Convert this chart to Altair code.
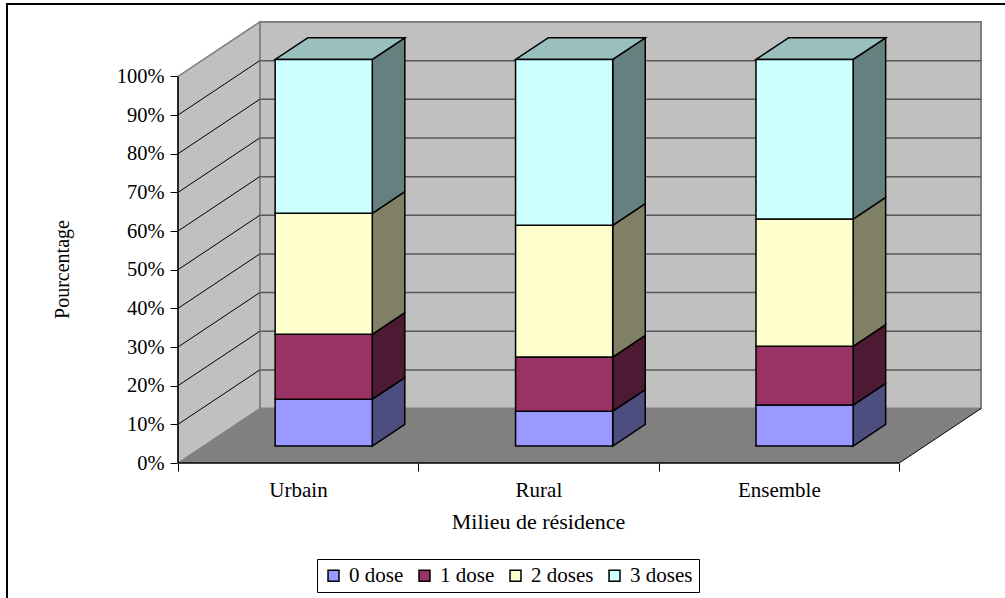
import altair as alt
import pandas as pd

# Vaccination coverage by place of residence (percent of children per dose count)
categories = ["Urbain", "Rural", "Ensemble"]
doses = ["0 dose", "1 dose", "2 doses", "3 doses"]
dose_0 = [12.1, 9.0, 10.6]
dose_1 = [16.8, 14.0, 15.2]
dose_2 = [31.3, 34.1, 32.9]
dose_3 = [39.8, 42.9, 41.3]
series = [dose_0, dose_1, dose_2, dose_3]
pct_ticks = list(range(0, 101, 10))

front_colors = ["#9999FF", "#993366", "#FFFFCC", "#CCFFFF"]
side_colors = ["#4D4D80", "#4D1A33", "#808066", "#668080"]
top_color = "#99BFBF"

# Oblique projection: one unit of depth shifts a point by this much in data units
DEPTH_X = 0.34
DEPTH_Y = 14.08
BAR_DEPTH_START = 0.312
BAR_DEPTH_END = 0.71
BAR_HALF_WIDTH = 0.202
FONT = "Liberation Serif"

xs = alt.Scale(domain=[0, 3 + DEPTH_X], nice=False, zero=False)
ys = alt.Scale(domain=[0, 100 + DEPTH_Y], nice=False, zero=False)

# Axes: ticks and labels come from the scales, the axis lines stop at the front plane
label_expr = "[" + ",".join(f"'{c}'" for c in categories) + ",''][datum.value]"
x_axis = alt.Axis(
    values=[0, 1, 2, 3], domain=False, grid=False, tickColor="black", tickSize=8,
    labelExpr=label_expr, labelOffset=120, labelFont=FONT, labelFontSize=21,
    labelColor="black", labelPadding=8, labelOverlap=False, labelBound=False,
    labelFlush=False, title="Milieu de résidence", titleFont=FONT, titleFontSize=22,
    titleFontWeight="normal", titleColor="black", titleX=360, titleY=48,
)
y_axis = alt.Axis(
    values=pct_ticks, domain=False, grid=False, tickColor="black", tickSize=8,
    labelExpr="datum.value + '%'", labelFont=FONT, labelFontSize=20.5, labelColor="black",
    labelPadding=6, labelOverlap=False, labelBound=False, labelFlush=False,
    title="Pourcentage", titleFont=FONT, titleFontSize=20, titleFontWeight="normal",
    titleColor="black", titleX=-106, titleY=247,
)


def X(field):
    return alt.X(field, type="quantitative", scale=xs, axis=x_axis, title="Milieu de résidence")


def Y(field):
    return alt.Y(field, type="quantitative", scale=ys, axis=y_axis, title="Pourcentage")


# Bar geometry: one row per stacked segment
fronts, sides, tops = [], [], []
for c, name in enumerate(categories):
    left = c + 0.5 - BAR_HALF_WIDTH + BAR_DEPTH_START * DEPTH_X
    right = c + 0.5 + BAR_HALF_WIDTH + BAR_DEPTH_START * DEPTH_X
    base = BAR_DEPTH_START * DEPTH_Y
    reach_x = (BAR_DEPTH_END - BAR_DEPTH_START) * DEPTH_X
    reach_y = (BAR_DEPTH_END - BAR_DEPTH_START) * DEPTH_Y
    total = 0.0
    for s, dose in enumerate(doses):
        lo, hi = total + base, total + series[s][c] + base
        total += series[s][c]
        fronts.append(dict(cat=name, dose=dose, x=left, x2=right, y=lo, y2=hi))
        key = f"{c}-{s}"
        sides.append(dict(key=key, fill=side_colors[s], x=right, y=lo, y2=hi))
        sides.append(dict(key=key, fill=side_colors[s], x=right + reach_x,
                          y=lo + reach_y, y2=hi + reach_y))
    tops.append(dict(key=c, y=total + base, x=left, x2=right))
    tops.append(dict(key=c, y=total + base + reach_y, x=left + reach_x, x2=right + reach_x))

# Outer frame: only its top and left edges fall inside the page
frame = alt.Chart(pd.DataFrame({"k": [0]})).mark_rect(
    fillOpacity=0, stroke="black", strokeWidth=2
).encode(
    x=alt.value(-171), x2=alt.value(860), y=alt.value(-18), y2=alt.value(620)
)

# Chart walls and floor
back_wall = alt.Chart(pd.DataFrame({"x": [DEPTH_X], "x2": [3 + DEPTH_X],
                                    "y": [DEPTH_Y], "y2": [100 + DEPTH_Y]})).mark_rect(
    fill="#C0C0C0", stroke="#808080", strokeWidth=2
).encode(x=X("x"), x2="x2", y=Y("y"), y2="y2")

left_wall = alt.Chart(pd.DataFrame({"x": [0, DEPTH_X], "y": [0, DEPTH_Y],
                                    "y2": [100, 100 + DEPTH_Y]})).mark_area(
    fill="#C0C0C0", stroke="#808080", strokeWidth=1.5, orient="vertical"
).encode(x=X("x"), y=Y("y"), y2="y2")

grid_back = alt.Chart(pd.DataFrame(
    [dict(p=p, x=x, y=p + DEPTH_Y) for p in pct_ticks[1:-1] for x in (DEPTH_X, 3 + DEPTH_X)]
)).mark_line(color="#595959", strokeWidth=1.5).encode(x=X("x"), y=Y("y"), detail="p:N")

grid_left = alt.Chart(pd.DataFrame(
    [dict(p=p, x=d * DEPTH_X, y=p + d * DEPTH_Y) for p in pct_ticks[1:-1] for d in (0, 1)]
)).mark_line(color="black", strokeWidth=1).encode(x=X("x"), y=Y("y"), detail="p:N")

floor = alt.Chart(pd.DataFrame({"y": [0, DEPTH_Y], "x": [0, DEPTH_X],
                                "x2": [3, 3 + DEPTH_X]})).mark_area(
    fill="#808080", orient="horizontal"
).encode(y=Y("y"), x=X("x"), x2="x2")

floor_edge = alt.Chart(pd.DataFrame({"x": [3, 3 + DEPTH_X], "y": [0, DEPTH_Y]})).mark_line(
    color="black", strokeWidth=1
).encode(x=X("x"), y=Y("y"))

x_line = alt.Chart(pd.DataFrame({"x": [0, 3], "y": [0, 0]})).mark_line(
    color="black", strokeWidth=1.5
).encode(x=X("x"), y=Y("y"))
y_line = alt.Chart(pd.DataFrame({"x": [0, 0], "y": [0, 100]})).mark_line(
    color="black", strokeWidth=1.5
).encode(x=X("x"), y=Y("y"))

# Bars
side_faces = alt.Chart(pd.DataFrame(sides)).mark_area(
    stroke="black", strokeWidth=1.5, orient="vertical"
).encode(
    x=X("x"), y=Y("y"), y2="y2", fill=alt.Fill("fill:N", scale=None), detail="key:N"
)
top_faces = alt.Chart(pd.DataFrame(tops)).mark_area(
    fill=top_color, stroke="black", strokeWidth=1.5, orient="horizontal"
).encode(y=Y("y"), x=X("x"), x2="x2", detail="key:N")
front_faces = alt.Chart(pd.DataFrame(fronts)).mark_rect(
    stroke="black", strokeWidth=1.5
).encode(
    x=X("x"), x2="x2", y=Y("y"), y2="y2",
    color=alt.Color("dose:N", scale=alt.Scale(domain=doses, range=front_colors),
                    legend=alt.Legend(
                        title=None, orient="none", legendX=139, legendY=537,
                        direction="horizontal", columns=4, symbolType="square",
                        symbolSize=120, symbolStrokeColor="black", symbolStrokeWidth=1.5,
                        labelFont=FONT, labelFontSize=21, labelColor="black",
                        columnPadding=10, labelOffset=5, padding=6,
                        strokeColor="black", fillColor="white",
                    )),
)

chart = alt.layer(
    frame, back_wall, grid_back, left_wall, grid_left, floor, floor_edge,
    x_line, y_line, side_faces, top_faces, front_faces,
).properties(
    width=803, height=441,
    background="white",
    autosize=alt.AutoSizeParams(type="none"),
    padding={"left": 178, "top": 22, "right": 24, "bottom": 135},
).configure_view(strokeWidth=0)

chart.save("out.html", embed_options={"renderer": "svg", "actions": False})
